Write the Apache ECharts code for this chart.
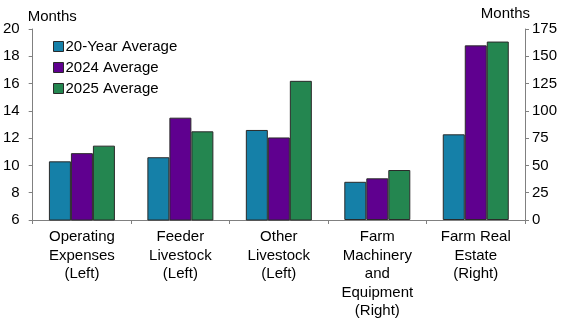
<!DOCTYPE html>
<html><head><meta charset="utf-8">
<script src="https://cdn.jsdelivr.net/npm/echarts@6/dist/echarts.min.js"></script>
<style>html,body{margin:0;padding:0;background:#fff}#c{width:565px;height:334px}</style>
</head><body><div id="c"></div>
<script>
const categories = ['Operating\nExpenses\n(Left)', 'Feeder\nLivestock\n(Left)', 'Other\nLivestock\n(Left)', 'Farm\nMachinery\nand\nEquipment\n(Right)', 'Farm Real\nEstate\n(Right)'];
const seriesNames = ['20-Year Average', '2024 Average', '2025 Average'];
// Left-axis categories (first three), right-axis categories (last two)
const avg20Left = [10.3, 10.6, 12.6, null, null];
const avg2024Left = [10.9, 13.5, 12.05, null, null];
const avg2025Left = [11.45, 12.5, 16.2, null, null];
const avg20Right = [null, null, null, 35, 78.5];
const avg2024Right = [null, null, null, 38.2, 160];
const avg2025Right = [null, null, null, 45.8, 163.5];
const leftTicks = {min: 6, max: 20, interval: 2};
const rightTicks = {min: 0, max: 175, interval: 25};

const colors = ['#1580A8', '#5F008F', '#248650'];
const font = 'Liberation Sans, Arial, sans-serif';
const chart = echarts.init(document.getElementById('c'));
const leftData = [avg20Left, avg2024Left, avg2025Left];
const rightData = [avg20Right, avg2024Right, avg2025Right];
const series = [];
seriesNames.forEach((n, i) => {
  series.push({name: n, type: 'bar', xAxisIndex: 0, yAxisIndex: 0, data: leftData[i],
    barWidth: 22, barGap: '0%',
    itemStyle: {color: colors[i], borderColor: '#2a2a2a', borderWidth: 1}});
});
seriesNames.forEach((n, i) => {
  series.push({name: n, type: 'bar', xAxisIndex: 1, yAxisIndex: 1, data: rightData[i],
    barWidth: 22, barGap: '0%',
    itemStyle: {color: colors[i], borderColor: '#2a2a2a', borderWidth: 1}});
});
const axisLine = {show: true, lineStyle: {color: '#808080', width: 1}};
chart.setOption({
  animation: false,
  textStyle: {fontFamily: font},
  grid: {left: 31, right: 40, top: 29, bottom: 114, containLabel: false},
  legend: {
    data: seriesNames, orient: 'vertical', left: 48, top: 34, itemGap: 6,
    itemWidth: 10, itemHeight: 10, icon: 'rect',
    textStyle: {fontSize: 15, color: '#000', fontFamily: font, padding: [0, 0, 0, -3]},
    itemStyle: {borderColor: '#2a2a2a', borderWidth: 1}
  },
  xAxis: [{
    type: 'category', data: categories, position: 'bottom',
    axisLine: axisLine,
    axisTick: {show: true, length: 4, inside: false, lineStyle: {color: '#808080'}},
    axisLabel: {fontSize: 15, color: '#000', lineHeight: 18.5, margin: 8, fontFamily: font, interval: 0}
  }, {
    type: 'category', data: categories, show: false
  }],
  yAxis: [{
    type: 'value', position: 'left', min: leftTicks.min, max: leftTicks.max, interval: leftTicks.interval,
    name: 'Months', nameLocation: 'end', nameGap: 5,
    nameTextStyle: {fontSize: 15, color: '#000', align: 'left', padding: [0, 0, 0, -5], fontFamily: font},
    axisLine: axisLine, axisTick: {show: true, length: 4, lineStyle: {color: '#808080'}},
    splitLine: {show: false},
    axisLabel: {fontSize: 15, color: '#000', margin: 13, fontFamily: font}
  }, {
    type: 'value', position: 'right', min: rightTicks.min, max: rightTicks.max, interval: rightTicks.interval,
    name: 'Months', nameLocation: 'end', nameGap: 5,
    nameTextStyle: {fontSize: 15, color: '#000', align: 'right', padding: [0, -5, 0, 0], fontFamily: font},
    axisLine: axisLine, axisTick: {show: true, length: 4, lineStyle: {color: '#808080'}},
    splitLine: {show: false},
    axisLabel: {fontSize: 15, color: '#000', margin: 7, fontFamily: font}
  }],
  series: series
});
</script></body></html>
